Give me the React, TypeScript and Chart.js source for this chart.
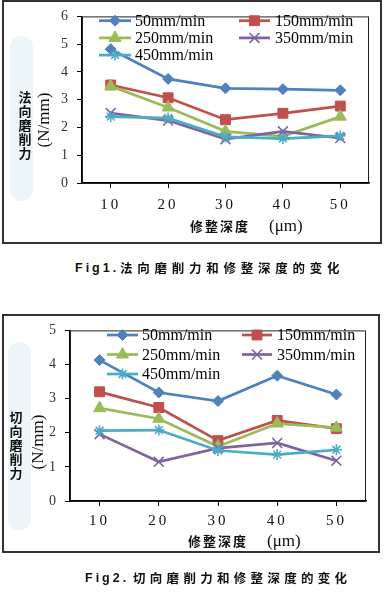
import React, { useEffect, useRef } from 'react';
import { Chart, registerables } from 'chart.js';
import { drawPoint } from 'chart.js/helpers';

Chart.register(...registerables);

// ---------- data ----------
const depths = ['10', '20', '30', '40', '50'];
const seriesNames = ['50mm/min', '150mm/min', '250mm/min', '350mm/min', '450mm/min'];

const normal50 = [4.82, 3.75, 3.41, 3.38, 3.34];
const normal150 = [3.53, 3.07, 2.28, 2.51, 2.77];
const normal250 = [3.49, 2.72, 1.86, 1.68, 2.39];
const normal350 = [2.52, 2.25, 1.58, 1.86, 1.62];
const normal450 = [2.39, 2.34, 1.66, 1.6, 1.7];

const tang50 = [4.13, 3.18, 2.93, 3.67, 3.12];
const tang150 = [3.2, 2.74, 1.77, 2.36, 2.12];
const tang250 = [2.72, 2.41, 1.6, 2.27, 2.15];
const tang350 = [1.96, 1.15, 1.55, 1.7, 1.18];
const tang450 = [2.06, 2.08, 1.48, 1.36, 1.5];

const normalTicksMax = 6;
const tangTicksMax = 5;

// ---------- styles ----------
const colors = ['#4F81BD', '#C0504D', '#9BBB59', '#8064A2', '#4BACC6'];
const pointStyles = ['rectRot', 'rect', 'triangle', 'crossRot', 'star'];
const pointRadii = [5.5, 7, 7, 7, 5.5];
const pointBorderWidths = [1, 1, 1, 1.6, 1.6];

const SERIF = '"Liberation Serif", "Times New Roman", serif';
const CJK = '"Noto Sans CJK SC", "Noto Sans", sans-serif';

const spacingPlugin = {
  id: 'tickSpacing',
  beforeDraw(chart: any) {
    (chart.ctx as any).letterSpacing = '3px';
  },
  beforeDatasetsDraw(chart: any) {
    (chart.ctx as any).letterSpacing = '0px';
  },
};

const legendPlugin = {
  id: 'seriesLegend',
  afterDatasetsDraw(chart: any, _args: any, opts: any) {
    const ctx = chart.ctx;
    const cols = opts.cols;
    chart.data.datasets.forEach((ds: any, i: number) => {
      const col = cols[i % 2];
      const y = opts.y0 + Math.floor(i / 2) * opts.dy;
      ctx.save();
      (ctx as any).letterSpacing = '0px';
      ctx.strokeStyle = ds.borderColor;
      ctx.lineWidth = ds.borderWidth;
      ctx.beginPath();
      ctx.moveTo(col.x1, y);
      ctx.lineTo(col.x2, y);
      ctx.stroke();
      ctx.fillStyle = ds.pointBackgroundColor;
      ctx.strokeStyle = ds.pointBorderColor;
      ctx.lineWidth = ds.pointBorderWidth;
      drawPoint(ctx, { pointStyle: ds.pointStyle, radius: ds.pointRadius, rotation: 0, borderWidth: ds.pointBorderWidth }, (col.x1 + col.x2) / 2, y);
      ctx.fillStyle = '#000';
      ctx.font = '16px ' + SERIF;
      ctx.textBaseline = 'middle';
      ctx.textAlign = 'left';
      ctx.fillText(ds.label, col.tx, y + 1);
      ctx.restore();
    });
  },
};

const framePlugin = {
  id: 'plotFrame',
  beforeDatasetsDraw(chart: any) {
    const { ctx, chartArea } = chart;
    ctx.save();
    ctx.strokeStyle = '#222';
    ctx.lineWidth = 1;
    ctx.strokeRect(chartArea.left + 0.5, chartArea.top + 0.5, chartArea.right - chartArea.left - 1, chartArea.bottom - chartArea.top);
    ctx.restore();
  },
};

type Cfg = {
  left: number; top: number; w: number; h: number;
  series: number[][];
  yMax: number;
  yWidth: number; xHeight: number;
  padTop: number; padRight: number;
  xPad: number; yPad: number;
  legend: any;
};

function LineChart({ cfg }: { cfg: Cfg }) {
  const ref = useRef<HTMLCanvasElement>(null);
  useEffect(() => {
    const datasets = cfg.series.map((vals, i) => ({
      label: seriesNames[i],
      data: vals,
      borderColor: colors[i],
      backgroundColor: colors[i],
      borderWidth: 2.75,
      pointStyle: pointStyles[i],
      pointRadius: pointRadii[i],
      pointBackgroundColor: colors[i],
      pointBorderColor: colors[i],
      pointBorderWidth: pointBorderWidths[i],
      tension: 0,
      order: 4 - i,
    }));
    const chart = new Chart(ref.current as HTMLCanvasElement, {
      type: 'line',
      data: { labels: depths, datasets },
      plugins: [spacingPlugin, legendPlugin, framePlugin],
      options: {
        animation: false,
        responsive: false,
        maintainAspectRatio: false,
        layout: { padding: { top: cfg.padTop, right: cfg.padRight, left: 0, bottom: 0 } },
        plugins: {
          legend: { display: false },
          tooltip: { enabled: false },
          seriesLegend: cfg.legend,
        } as any,
        scales: {
          x: {
            type: 'category',
            offset: true,
            grid: { display: true, drawOnChartArea: false, drawTicks: true, tickLength: 5, offset: false, color: '#000' },
            border: { display: true, color: '#000', width: 1.5 },
            ticks: { color: '#111', font: { family: SERIF, size: 15 }, padding: cfg.xPad, maxRotation: 0 },
            afterFit: (s: any) => { s.height = cfg.xHeight; },
          },
          y: {
            min: 0,
            max: cfg.yMax,
            grid: { display: true, drawOnChartArea: false, drawTicks: true, tickLength: 5, color: '#000' },
            border: { display: true, color: '#000', width: 1.5 },
            ticks: { stepSize: 1, color: '#333', font: { family: SERIF, size: 14 }, padding: cfg.yPad },
            afterFit: (s: any) => { s.width = cfg.yWidth; },
          },
        },
      } as any,
    });
    return () => chart.destroy();
  }, []);
  return (
    <canvas
      ref={ref}
      width={cfg.w}
      height={cfg.h}
      style={{ position: 'absolute', left: cfg.left, top: cfg.top, width: cfg.w, height: cfg.h }}
    />
  );
}

const chart1: Cfg = {
  left: 4, top: 2, w: 376, h: 240,
  series: [normal50, normal150, normal250, normal350, normal450],
  yMax: normalTicksMax,
  yWidth: 78, xHeight: 59, padTop: 12, padRight: 11,
  xPad: 8, yPad: 6,
  legend: { y0: 18.7, dy: 17.2, cols: [{ x1: 95, x2: 127, tx: 131 }, { x1: 235, x2: 266, tx: 271 }] },
};

const chart2: Cfg = {
  left: 4, top: 316, w: 374, h: 235,
  series: [tang50, tang150, tang250, tang350, tang450],
  yMax: tangTicksMax,
  yWidth: 66, xHeight: 50, padTop: 12, padRight: 12,
  xPad: 6, yPad: 6,
  legend: { y0: 19, dy: 19.5, cols: [{ x1: 103, x2: 134, tx: 138 }, { x1: 238, x2: 268, tx: 273 }] },
};

function VChars({ text, left, top }: { text: string; left: number; top: number }) {
  return (
    <div style={{ position: 'absolute', left, top, width: 14, fontFamily: CJK, fontWeight: 'bold', fontSize: 13, lineHeight: '14px', color: '#111', textAlign: 'center' }}>
      {Array.from(text).map((c, i) => (<div key={i}>{c}</div>))}
    </div>
  );
}

function Rot({ text, cx, cy }: { text: string; cx: number; cy: number }) {
  return (
    <div style={{ position: 'absolute', left: cx, top: cy, transform: 'translate(-50%, -50%) rotate(-90deg)', whiteSpace: 'nowrap', fontFamily: SERIF, fontSize: 17, lineHeight: '17px', color: '#111' }}>
      {text}
    </div>
  );
}

function XTitle({ left, umLeft, cy }: { left: number; umLeft: number; cy: number }) {
  return (
    <>
      <div style={{ position: 'absolute', left, top: cy - 7, fontFamily: CJK, fontWeight: 'bold', fontSize: 13, lineHeight: '14px', letterSpacing: 2, color: '#111', whiteSpace: 'nowrap' }}>修整深度</div>
      <div style={{ position: 'absolute', left: umLeft, top: cy - 9, fontFamily: SERIF, fontSize: 17, lineHeight: '18px', color: '#111', whiteSpace: 'nowrap' }}>(μm)</div>
    </>
  );
}

function Caption({ fig, text, left, cjkLeft, cy, ls }: { fig: string; text: string; left: number; cjkLeft: number; cy: number; ls: number }) {
  const common: React.CSSProperties = { position: 'absolute', top: cy - 8, fontSize: 12.5, lineHeight: '16px', fontWeight: 'bold', color: '#111', whiteSpace: 'nowrap' };
  return (
    <>
      <div style={{ ...common, left, fontFamily: '"Liberation Sans", Arial, sans-serif', letterSpacing: 3 }}>{fig}</div>
      <div style={{ ...common, left: cjkLeft, fontFamily: CJK, letterSpacing: ls }}>{text}</div>
    </>
  );
}

export default function App() {
  return (
    <div style={{ position: 'absolute', left: 0, top: 0, width: 385, height: 598, background: '#fff', overflow: 'hidden' }}>
      {/* faint background pills */}
      <div style={{ position: 'absolute', left: 10, top: 36, width: 23, height: 165, borderRadius: 12, background: '#ecf6f8' }} />
      <div style={{ position: 'absolute', left: 8, top: 342, width: 23, height: 188, borderRadius: 12, background: '#ecf6f8' }} />

      {/* chart boxes */}
      <div style={{ position: 'absolute', left: 2, top: 0, width: 376, height: 240, border: '2px solid #333' }} />
      <div style={{ position: 'absolute', left: 2, top: 314, width: 374, height: 235, border: '2px solid #333' }} />

      <LineChart cfg={chart1} />
      <LineChart cfg={chart2} />

      <VChars text="法向磨削力" left={18} top={90} />
      <Rot text="(N/mm)" cx={43} cy={120} />
      <XTitle left={190} umLeft={269} cy={226} />

      <VChars text="切向磨削力" left={9} top={410} />
      <Rot text="(N/mm)" cx={37} cy={442} />
      <XTitle left={188} umLeft={267} cy={541} />

      <Caption fig="Fig1." text="法向磨削力和修整深度的变化" left={75} cjkLeft={120} cy={268} ls={4.75} />
      <Caption fig="Fig2." text="切向磨削力和修整深度的变化" left={85} cjkLeft={133} cy={578} ls={4.3} />
    </div>
  );
}
